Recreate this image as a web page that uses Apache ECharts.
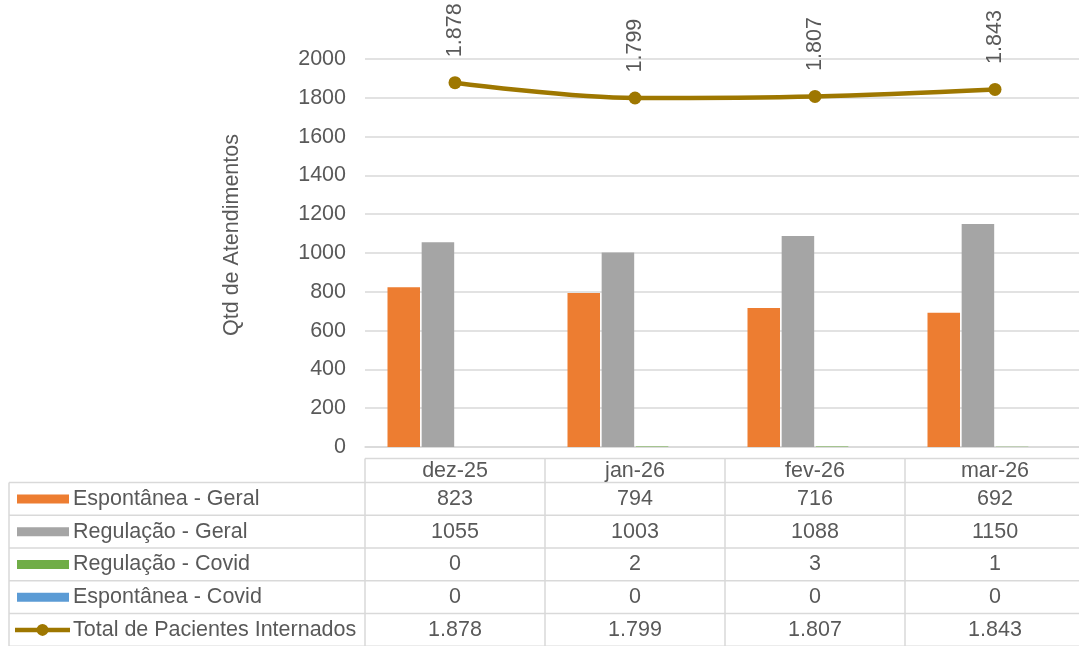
<!DOCTYPE html>
<html><head><meta charset="utf-8">
<script src="https://cdn.jsdelivr.net/npm/echarts@6/dist/echarts.min.js"></script>
<style>html,body{margin:0;padding:0;background:#fff;overflow:hidden}#c{width:1085px;height:646px}</style>
</head><body><div id="c"></div>
<script>
// ---- data ----
const categories = ['dez-25', 'jan-26', 'fev-26', 'mar-26'];
const espontaneaGeral = [823, 794, 716, 692];
const regulacaoGeral = [1055, 1003, 1088, 1150];
const regulacaoCovid = [0, 2, 3, 1];
const espontaneaCovid = [0, 0, 0, 0];
const totalInternados = [1878, 1799, 1807, 1843];
const seriesNames = ['Espontânea - Geral', 'Regulação - Geral', 'Regulação - Covid', 'Espontânea - Covid', 'Total de Pacientes Internados'];
const yAxisName = 'Qtd de Atendimentos';
const yMin = 0, yMax = 2000, yStep = 200;

// ---- style ----
const FONT = '"Liberation Sans", Arial, sans-serif';
const TXT = '#595959';
const GRID = '#D9D9D9';
const FS = 21.5;
const colors = ['#ED7D31', '#A5A5A5', '#70AD47', '#5B9BD5', '#9E7700'];

function dotFmt(v) {
  if (v < 1000) return String(v);
  return Math.floor(v / 1000) + '.' + String(v % 1000).padStart(3, '0');
}

const chart = echarts.init(document.getElementById('c'), null, { renderer: 'canvas' });
const barSeries = [espontaneaGeral, regulacaoGeral, regulacaoCovid, espontaneaCovid].map((d, i) => ({
  name: seriesNames[i], type: 'bar', data: d,
  barGap: '5%', barCategoryGap: '25%',
  itemStyle: { color: colors[i] }
}));
chart.setOption({
  animation: false,
  textStyle: { fontFamily: FONT },
  grid: { left: 365, right: 0, top: 59, bottom: 199, containLabel: false },
  xAxis: {
    type: 'category', data: categories,
    axisLine: { show: true, lineStyle: { color: GRID, width: 1.5 } },
    axisTick: { show: false }, axisLabel: { show: false }
  },
  yAxis: {
    type: 'value', min: yMin, max: yMax, interval: yStep,
    axisLine: { show: false }, axisTick: { show: false },
    axisLabel: { color: TXT, fontSize: FS, fontFamily: FONT, margin: 19, formatter: v => String(v) },
    splitLine: { lineStyle: { color: GRID, width: 1.5 } }
  },
  series: barSeries.concat([{
    name: seriesNames[4], type: 'line', data: totalInternados,
    smooth: 0.35, symbol: 'circle', symbolSize: 13,
    lineStyle: { color: colors[4], width: 4.5 },
    itemStyle: { color: colors[4] },
    label: {
      show: true, position: 'top', rotate: 90, align: 'left', verticalAlign: 'middle',
      distance: 19, color: TXT, fontSize: FS, fontFamily: FONT,
      formatter: p => dotFmt(p.value)
    },
    z: 5
  }])
});

// ---- data table built from the category axis scale ----
const centers = categories.map((c, i) => chart.convertToPixel({ xAxisIndex: 0 }, i));
const band = centers[1] - centers[0];
const tableLeft = 9, colLeft = centers[0] - band / 2, right = 1085;
const headTop = 458.5, headBot = 482.5, rowH = 32.75;
const g = [];
const line = (x1, y1, x2, y2) => g.push({ type: 'line', shape: { x1, y1, x2, y2 }, style: { stroke: GRID, lineWidth: 1.5 }, silent: true });
const text = (x, y, t, align) => g.push({ type: 'text', x, y, style: { text: t, fill: TXT, font: FS + 'px ' + FONT, textAlign: align || 'center', textVerticalAlign: 'middle' } });

line(colLeft, headTop, right, headTop);
for (let r = 0; r <= 5; r++) line(tableLeft, headBot + r * rowH, right, headBot + r * rowH);
line(tableLeft, headBot, tableLeft, 646);
for (let i = 0; i <= categories.length; i++) {
  const x = colLeft + i * band;
  line(x, headTop, x, 646);
}
categories.forEach((c, i) => text(centers[i], (headTop + headBot) / 2 + 1, c));
const rows = [espontaneaGeral, regulacaoGeral, regulacaoCovid, espontaneaCovid, totalInternados];
rows.forEach((d, r) => {
  const cy = headBot + r * rowH + rowH / 2;
  if (r < 4) {
    g.push({ type: 'rect', shape: { x: 17, y: cy - 4.5, width: 52, height: 9 }, style: { fill: colors[r] } });
  } else {
    g.push({ type: 'line', shape: { x1: 15, y1: cy, x2: 70, y2: cy }, style: { stroke: colors[r], lineWidth: 4.5 } });
    g.push({ type: 'circle', shape: { cx: 42.5, cy, r: 6 }, style: { fill: colors[r] } });
  }
  text(73, cy, seriesNames[r], 'left');
  d.forEach((v, i) => text(centers[i], cy, r === 4 ? dotFmt(v) : String(v)));
});
// y-axis title
g.push({ type: 'text', x: 232, y: 235, rotation: Math.PI / 2,
  style: { text: yAxisName, fill: TXT, font: FS + 'px ' + FONT, textAlign: 'center', textVerticalAlign: 'middle' } });
chart.setOption({ graphic: g });
</script>
</body></html>
